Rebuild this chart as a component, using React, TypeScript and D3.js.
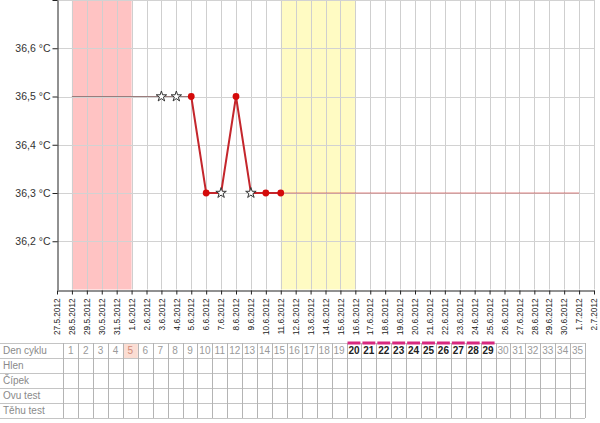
import * as React from 'react'
import { useEffect, useRef } from 'react'
import * as d3 from 'd3'

// dates on the x axis (one per day)
const dates = [
  '27.5.2012', '28.5.2012', '29.5.2012', '30.5.2012', '31.5.2012', '1.6.2012', '2.6.2012',
  '3.6.2012', '4.6.2012', '5.6.2012', '6.6.2012', '7.6.2012', '8.6.2012', '9.6.2012',
  '10.6.2012', '11.6.2012', '12.6.2012', '13.6.2012', '14.6.2012', '15.6.2012', '16.6.2012',
  '17.6.2012', '18.6.2012', '19.6.2012', '20.6.2012', '21.6.2012', '22.6.2012', '23.6.2012',
  '24.6.2012', '25.6.2012', '26.6.2012', '27.6.2012', '28.6.2012', '29.6.2012', '30.6.2012',
  '1.7.2012', '2.7.2012',
]
const tempTicks = [36.2, 36.3, 36.4, 36.5, 36.6, 36.7]

// measured temperatures
const measureDates = ['3.6.2012', '4.6.2012', '5.6.2012', '6.6.2012', '7.6.2012', '8.6.2012', '9.6.2012', '10.6.2012', '11.6.2012']
const measureTemps = [36.5, 36.5, 36.5, 36.3, 36.3, 36.5, 36.3, 36.3, 36.3]
const disturbed = [true, true, false, false, true, false, true, false, false]
const solidFrom = '5.6.2012'

// thin guide lines before / after measurements
const leadDates = ['28.5.2012', '5.6.2012']
const leadTemps = [36.5, 36.5]
const trailDates = ['11.6.2012', '1.7.2012']
const trailTemps = [36.3, 36.3]

// shaded periods
const mensDates = ['28.5.2012', '1.6.2012']
const fertileDates = ['11.6.2012', '16.6.2012']

// table
const rowLabels = ['Den cyklu', 'Hlen', 'Čípek', 'Ovu test', 'Těhu test']
const cycleDays = [1, 2, 3, 4, 5, 6, 7, 8, 9, 10, 11, 12, 13, 14, 15, 16, 17, 18, 19, 20, 21, 22, 23, 24, 25, 26, 27, 28, 29, 30, 31, 32, 33, 34, 35]
const todayDay = 5
const markedDays = [20, 21, 22, 23, 24, 25, 26, 27, 28, 29]

const W = 600
const H = 423
const FONT = '"Liberation Sans", Arial, sans-serif'

export default function App() {
  const ref = useRef<SVGSVGElement | null>(null)

  useEffect(() => {
    const svg = d3.select(ref.current)
    svg.selectAll('*').remove()

    const x = d3.scaleLinear().domain([0, dates.length - 1]).range([57, 594])
    const xd = (d: string) => x(dates.indexOf(d))
    const y = d3.scaleLinear().domain([36.1, 36.7]).range([289.5, 0])

    const plot = svg.append('g')

    // bands
    plot.append('rect')
      .attr('x', xd(mensDates[0])).attr('y', 0)
      .attr('width', xd(mensDates[1]) - xd(mensDates[0])).attr('height', y(36.1))
      .attr('fill', '#ffc3c3')
    plot.append('rect')
      .attr('x', xd(fertileDates[0])).attr('y', 0)
      .attr('width', xd(fertileDates[1]) - xd(fertileDates[0])).attr('height', y(36.1))
      .attr('fill', '#fffbc3')

    // grid
    plot.selectAll('line.vg').data(dates.slice(1)).enter().append('line')
      .attr('x1', d => Math.round(xd(d)) + 0.5).attr('x2', d => Math.round(xd(d)) + 0.5)
      .attr('y1', 0).attr('y2', y(36.1))
      .attr('stroke', '#cfcfcf').attr('stroke-width', 1)
    plot.selectAll('line.hg').data(tempTicks).enter().append('line')
      .attr('x1', x(0)).attr('x2', x(dates.length - 1))
      .attr('y1', d => Math.round(y(d)) + 0.5).attr('y2', d => Math.round(y(d)) + 0.5)
      .attr('stroke', '#d2d2d2').attr('stroke-width', 1)

    // thin guide lines
    const line = d3.line<[string, number]>().x(d => xd(d[0])).y(d => y(d[1]))
    plot.append('path')
      .attr('d', line(d3.zip(leadDates, leadTemps) as [string, number][]))
      .attr('fill', 'none').attr('stroke', '#9a7c7c').attr('stroke-width', 1)
    plot.append('path')
      .attr('d', line(d3.zip(trailDates, trailTemps) as [string, number][]))
      .attr('fill', 'none').attr('stroke', 'rgba(200,50,50,0.6)').attr('stroke-width', 1)

    // solid measurement line
    const pts = d3.zip(measureDates, measureTemps) as [string, number][]
    const solid = pts.slice(measureDates.indexOf(solidFrom))
    plot.append('path')
      .attr('d', line(solid))
      .attr('fill', 'none').attr('stroke', '#c4262c').attr('stroke-width', 2)

    // dots and stars
    plot.selectAll('circle.m').data(pts.filter((_, i) => !disturbed[i])).enter().append('circle')
      .attr('cx', d => xd(d[0])).attr('cy', d => y(d[1])).attr('r', 3.4)
      .attr('fill', '#d40a0a')
    const star = d3.symbol().type(d3.symbolStar).size(34)
    plot.selectAll('path.star').data(pts.filter((_, i) => disturbed[i])).enter().append('path')
      .attr('d', star())
      .attr('transform', d => `translate(${xd(d[0])},${y(d[1])})`)
      .attr('fill', '#fff').attr('stroke', '#333').attr('stroke-width', 1)

    // axes
    const yAxis = d3.axisLeft(y).tickValues(tempTicks).tickSize(5).tickSizeOuter(0)
      .tickFormat(d => ((d as number) >= 36.65 ? '' : d3.format('.1f')(d as number).replace('.', ',') + ' °C'))
    const gy = svg.append('g').attr('transform', 'translate(57.5,0)').call(yAxis)
    gy.select('.domain').attr('stroke', '#222')
    gy.selectAll('line').attr('stroke', '#222')
    gy.selectAll('text').attr('font-family', FONT).attr('font-size', 10.5).attr('fill', '#333').attr('x', -7)

    const xAxis = d3.axisBottom(x).tickValues(d3.range(dates.length)).tickSize(4).tickSizeOuter(0)
      .tickFormat(i => dates[i as number])
    const gx = svg.append('g').attr('transform', `translate(0,${Math.round(y(36.1)) + 0.5})`).call(xAxis)
    gx.select('.domain').attr('stroke', '#222')
    gx.selectAll('line').attr('stroke', '#222')
    gx.selectAll('text')
      .attr('font-family', FONT).attr('font-size', 8.2).attr('fill', '#222')
      .attr('transform', 'rotate(-90)')
      .attr('text-anchor', 'end')
      .attr('x', -8).attr('y', 0).attr('dy', '0.33em')

    // table
    const tTop = 343
    const rowH = 15
    const c = d3.scaleBand<number>().domain(cycleDays).range([63.3, 585]).paddingInner(0)
    const tbl = svg.append('g')

    tbl.append('rect')
      .attr('x', c(todayDay)!).attr('y', tTop)
      .attr('width', c.bandwidth()).attr('height', rowH)
      .attr('fill', '#fbddd3')

    tbl.selectAll('line.row').data(d3.range(rowLabels.length + 1)).enter().append('line')
      .attr('x1', 0).attr('x2', 585)
      .attr('y1', i => tTop + i * rowH + 0.5).attr('y2', i => tTop + i * rowH + 0.5)
      .attr('stroke', '#c4c4c4')
    tbl.selectAll('line.col').data([...cycleDays.map(d => c(d)!), 585]).enter().append('line')
      .attr('x1', d => Math.round(d) + 0.5).attr('x2', d => Math.round(d) + 0.5)
      .attr('y1', tTop).attr('y2', tTop + rowLabels.length * rowH)
      .attr('stroke', '#b4b4b4')

    tbl.selectAll('rect.mark').data(markedDays).enter().append('rect')
      .attr('x', d => c(d)! + 1).attr('y', tTop - 1.5)
      .attr('width', c.bandwidth() - 2).attr('height', 3)
      .attr('fill', '#d8287f')

    tbl.selectAll('text.lbl').data(rowLabels).enter().append('text')
      .attr('x', 3).attr('y', (_, i) => tTop + i * rowH + 11)
      .attr('font-family', FONT).attr('font-size', 10).attr('fill', '#8a8a8a')
      .text(d => d)

    tbl.selectAll('text.day').data(cycleDays).enter().append('text')
      .attr('x', d => c(d)! + c.bandwidth() / 2).attr('y', tTop + 11)
      .attr('text-anchor', 'middle')
      .attr('font-family', FONT).attr('font-size', 10)
      .attr('font-weight', d => (markedDays.includes(d) ? 'bold' : 'normal'))
      .attr('fill', d => (markedDays.includes(d) ? '#222' : d === todayDay ? '#d08a78' : '#9a9a9a'))
      .text(d => d)
  }, [])

  return (
    <svg ref={ref} width={W} height={H} style={{ position: 'absolute', left: 0, top: 0, background: '#fff' }} />
  )
}
